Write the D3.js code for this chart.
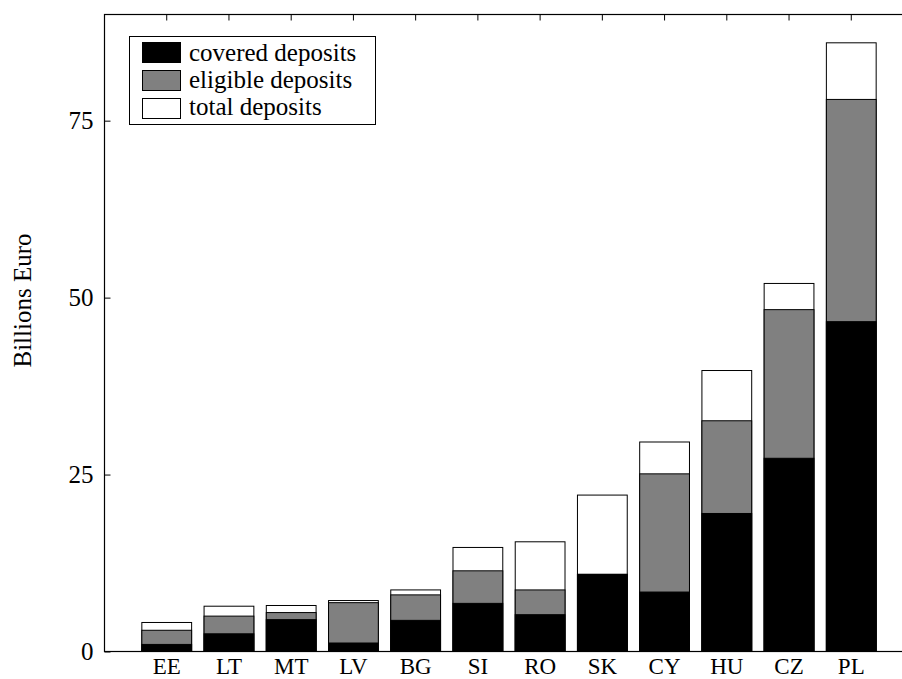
<!DOCTYPE html>
<html>
<head>
<meta charset="utf-8">
<script src="https://cdn.jsdelivr.net/npm/d3@7"></script>
<style>
  html, body { margin: 0; padding: 0; background: #fff; }
  svg { display: block; }
</style>
</head>
<body>
<svg id="chart" width="902" height="679"></svg>
<script>
// ---- data ----
const categories = ["EE", "LT", "MT", "LV", "BG", "SI", "RO", "SK", "CY", "HU", "CZ", "PL"];
const totalDeposits    = [4.1, 6.4, 6.5, 7.2, 8.7, 14.7, 15.5, 22.1, 29.6, 39.7, 52.0, 86.0];
const eligibleDeposits = [3.0, 5.0, 5.5, 6.9, 8.0, 11.4, 8.7, 10.9, 25.1, 32.6, 48.3, 78.0];
const coveredDeposits  = [1.0, 2.5, 4.5, 1.2, 4.4, 6.8, 5.2, 10.9, 8.4, 19.5, 27.3, 46.6];
const yTicks = [0, 25, 50, 75];
const seriesNames = ["covered deposits", "eligible deposits", "total deposits"];
const seriesColors = ["#000000", "#808080", "#ffffff"];

// ---- layout ----
const svg = d3.select("#chart");
const SERIF = '"Liberation Serif", "Times New Roman", serif';
const plotLeft = 104.5, plotRight = 913.5, plotTop = 14.5, plotBottom = 651.5;
const FONT = 25;

const x = d3.scaleBand().domain(categories).range([plotLeft, plotRight])
  .paddingInner(0.2).paddingOuter(0.6);
const y = d3.scaleLinear().domain([0, 90]).range([plotBottom, plotTop]);

// bars: total behind, eligible, covered in front
const layers = [
  { values: totalDeposits, color: seriesColors[2] },
  { values: eligibleDeposits, color: seriesColors[1] },
  { values: coveredDeposits, color: seriesColors[0] }
];
layers.forEach(layer => {
  svg.append("g").selectAll("rect")
    .data(categories.map((c, i) => ({ c, v: layer.values[i] })))
    .join("rect")
    .attr("x", d => x(d.c))
    .attr("y", d => y(d.v))
    .attr("width", x.bandwidth())
    .attr("height", d => y(0) - y(d.v))
    .attr("fill", layer.color)
    .attr("stroke", "#000")
    .attr("stroke-width", 1);
});

// frame
svg.append("rect")
  .attr("x", plotLeft).attr("y", plotTop)
  .attr("width", plotRight - plotLeft).attr("height", plotBottom - plotTop)
  .attr("fill", "none").attr("stroke", "#000").attr("stroke-width", 1.2);

// left axis
const yAxis = svg.append("g").attr("transform", `translate(${plotLeft},0)`)
  .call(d3.axisLeft(y).tickValues(yTicks).tickSizeInner(-6).tickSizeOuter(0).tickPadding(11));
yAxis.select(".domain").remove();
yAxis.attr("font-family", SERIF);
yAxis.selectAll("text").style("font-size", FONT + "px").style("font-family", SERIF).attr("fill", "#000");
yAxis.selectAll("line").attr("stroke", "#000");

// top axis ticks (mirror)
const xTop = svg.append("g").attr("transform", `translate(0,${plotTop})`)
  .call(d3.axisTop(x).tickSizeInner(-6).tickSizeOuter(0).tickFormat(""));
xTop.select(".domain").remove();

// bottom axis labels
const xAxis = svg.append("g").attr("transform", `translate(0,${plotBottom})`)
  .call(d3.axisBottom(x).tickSize(0).tickPadding(0));
xAxis.select(".domain").remove();
xAxis.attr("font-family", SERIF);
xAxis.selectAll("text")
  .attr("dy", null)
  .attr("y", 22)
  .attr("fill", "#000")
  .style("font-size", "23px")
  .style("font-family", SERIF);

// y label
svg.append("text")
  .attr("transform", "translate(31,300.5) rotate(-90)")
  .attr("text-anchor", "middle")
  .style("font-family", SERIF)
  .style("font-size", FONT + "px")
  .text("Billions Euro");

// legend
const lg = svg.append("g");
lg.append("rect").attr("x", 129.5).attr("y", 36.5).attr("width", 246).attr("height", 88)
  .attr("fill", "#fff").attr("stroke", "#000").attr("stroke-width", 1);
seriesNames.forEach((name, i) => {
  lg.append("rect")
    .attr("x", 142.5).attr("y", 42.5 + i * 28).attr("width", 38).attr("height", 20)
    .attr("fill", seriesColors[i]).attr("stroke", "#000").attr("stroke-width", 1);
  lg.append("text")
    .attr("x", 189).attr("y", 61 + i * 27)
    .style("font-family", SERIF)
    .style("font-size", FONT + "px")
    .text(name);
});
</script>
</body>
</html>
